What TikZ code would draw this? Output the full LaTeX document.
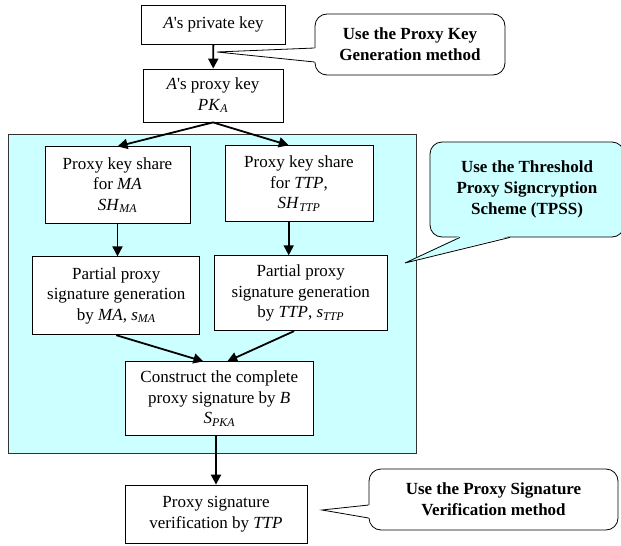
\documentclass[tikz,border=0pt]{standalone}
\usepackage{fontspec}
\setmainfont{Liberation Serif}
\usetikzlibrary{arrows.meta,calc}

\begin{document}
\begin{tikzpicture}[x=1pt,y=-1pt]
  \definecolor{tpssfill}{HTML}{CCFFFF}
  \tikzset{
    stage/.style={draw,fill=white,line width=0.8pt,align=center,inner sep=2pt,
      font=\fontsize{17}{20.5}\selectfont},
    bubble/.style={draw,line width=0.8pt,rounded corners=12pt,align=center,
      font=\fontsize{17}{21}\selectfont\bfseries},
    flow/.style={-{Triangle[length=10pt,width=10pt]},line width=1.8pt}
  }

  \clip (0,0) rectangle (621,546);

  \draw[fill=tpssfill,draw=black!80,line width=0.8pt] (8,134) rectangle (416,453);

  \node[stage,minimum width=144pt,minimum height=39pt] (priv) at (213.5,24.5)
    {\textit{A}\textquotesingle s private key};
  \node[stage,minimum width=140pt,minimum height=53pt] (proxy) at (213,95.5)
    {\textit{A}\textquotesingle s proxy key\\\textit{PK}\textsubscript{\textit{A}}};
  \node[stage,minimum width=145pt,minimum height=77pt] (shareMA) at (117.5,185.3)
    {Proxy key share\\for \textit{MA}\\\textit{SH}\textsubscript{\textit{MA}}};
  \node[stage,minimum width=148pt,minimum height=76pt] (shareTTP) at (299,183.7)
    {Proxy key share\\for \textit{TTP},\\\textit{SH}\textsubscript{\textit{TTP}}};
  \node[stage,minimum width=167pt,minimum height=78pt] (partMA) at (116.3,295.8)
    {Partial proxy\\signature generation\\by \textit{MA}, \textit{s}\textsubscript{\textit{MA}}};
  \node[stage,minimum width=173pt,minimum height=75pt] (partTTP) at (300.8,293.2)
    {Partial proxy\\signature generation\\by \textit{TTP}, \textit{s}\textsubscript{\textit{TTP}}};
  \node[stage,minimum width=188pt,minimum height=74pt] (build) at (219.3,398.8)
    {Construct the complete\\proxy signature by \textit{B}\\\textit{S}\textsubscript{\textit{PKA}}};
  \node[stage,minimum width=182pt,minimum height=58pt] (verify) at (216,514)
    {Proxy signature\\verification by \textit{TTP}};

  \draw[flow] (priv) -- (proxy);
  \draw[flow] (proxy.south) -- (shareMA.north);
  \draw[flow] (proxy.south) -- (shareTTP.105);
  \draw[flow] (shareMA.south) -- (shareMA.south |- partMA.north);
  \draw[flow] (shareTTP.255) -- (shareTTP.255 |- partTTP.north);
  \draw[flow] (partMA.south) -- (build.113);
  \draw[flow] (partTTP.260) -- (build.78);
  \draw[flow] (verify.north |- build.south) -- (verify.north);

  \node[bubble,fill=white,minimum width=190pt,minimum height=61pt] (keygen) at (410,44.5)
    {Use the Proxy Key\\Generation method};
  \node[bubble,fill=tpssfill,minimum width=194pt,minimum height=95pt] (thresh) at (527,189.5)
    {Use the Threshold\\Proxy Signcryption\\Scheme (TPSS)};
  \node[bubble,fill=white,minimum width=249pt,minimum height=61pt] (vermeth) at (493.5,499.5)
    {Use the Proxy Signature\\Verification method};

  \coordinate (tipA) at (217,52);
  \coordinate (tipB) at (405,263);
  \coordinate (tipC) at (322,510);

  \fill[white] ($(keygen.west)+(1.5,3.5)$) -- (tipA) -- ($(keygen.west)+(1.5,17.5)$) -- cycle;
  \draw[line width=0.8pt] ($(keygen.west)+(0,3.5)$) -- (tipA) -- ($(keygen.west)+(0,17.5)$);
  \fill[tpssfill] ($(thresh.south)+(-67,-1.5)$) -- (tipB) -- ($(thresh.south)+(-17,-1.5)$) -- cycle;
  \draw[line width=0.8pt] ($(thresh.south)+(-67,0)$) -- (tipB) -- ($(thresh.south)+(-17,0)$);
  \fill[white] ($(vermeth.west)+(1.5,5.5)$) -- (tipC) -- ($(vermeth.west)+(1.5,18.5)$) -- cycle;
  \draw[line width=0.8pt] ($(vermeth.west)+(0,5.5)$) -- (tipC) -- ($(vermeth.west)+(0,18.5)$);
\end{tikzpicture}
\end{document}
